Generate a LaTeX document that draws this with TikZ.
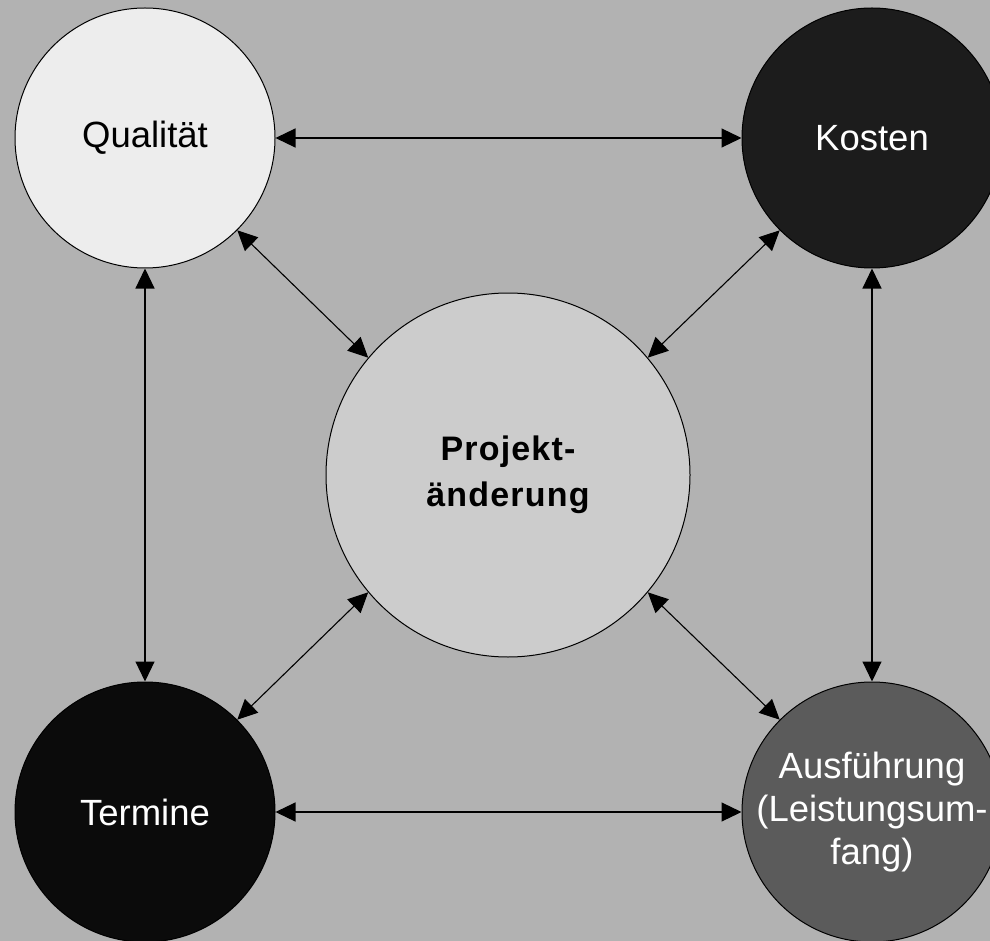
\documentclass[tikz,border=0pt]{standalone}
\usepackage{fontspec}
\setmainfont{Liberation Sans}
\usetikzlibrary{arrows.meta}
\definecolor{bggray}{HTML}{B2B2B2}
\definecolor{qualfill}{HTML}{EDEDED}
\definecolor{kostfill}{HTML}{1C1C1C}
\definecolor{termfill}{HTML}{0B0B0B}
\definecolor{ausffill}{HTML}{5B5B5B}
\definecolor{projfill}{HTML}{CCCCCC}
\begin{document}
\begin{tikzpicture}[x=1pt,y=-1pt,
  ball/.style={circle,draw=black,line width=1pt,inner sep=0pt,minimum size=260pt,
    align=center,font=\fontsize{36.5}{43}\selectfont},
  bigball/.style={ball,minimum size=364pt,
    font=\fontsize{34}{46}\selectfont\bfseries\addfontfeatures{LetterSpace=3.5}},
  link/.style={line width=1.1pt,{Triangle[length=20pt,width=19pt]}-{Triangle[length=20pt,width=19pt]}}]
  % canvas
  \useasboundingbox (0,0) rectangle (990,941);
  \clip (0,0) rectangle (990,941);
  \fill[bggray] (0,0) rectangle (990,941);
  % circles
  \node[ball,fill=qualfill,text=black] (q) at (145,138) {Qualit\"at};
  \node[ball,fill=kostfill,text=white] (k) at (872,138) {Kosten};
  \node[ball,fill=termfill,text=white] (t) at (145,812) {Termine};
  \node[ball,fill=ausffill,text=white] (a) at (872,812) {Ausf\"uhrung\\(Leistungsum-\\fang)};
  \node[bigball,fill=projfill,text=black] (p) at (508,475) {Projekt-\\\"anderung};
  % connectors
  \draw[link] (q) -- (k);
  \draw[link] (t) -- (a);
  \draw[link] (q) -- (t);
  \draw[link] (k) -- (a);
  \draw[link] (q.-45) -- (p.140);
  \draw[link] (k.-135) -- (p.40);
  \draw[link] (t.45) -- (p.-140);
  \draw[link] (a.135) -- (p.-40);
\end{tikzpicture}
\end{document}
